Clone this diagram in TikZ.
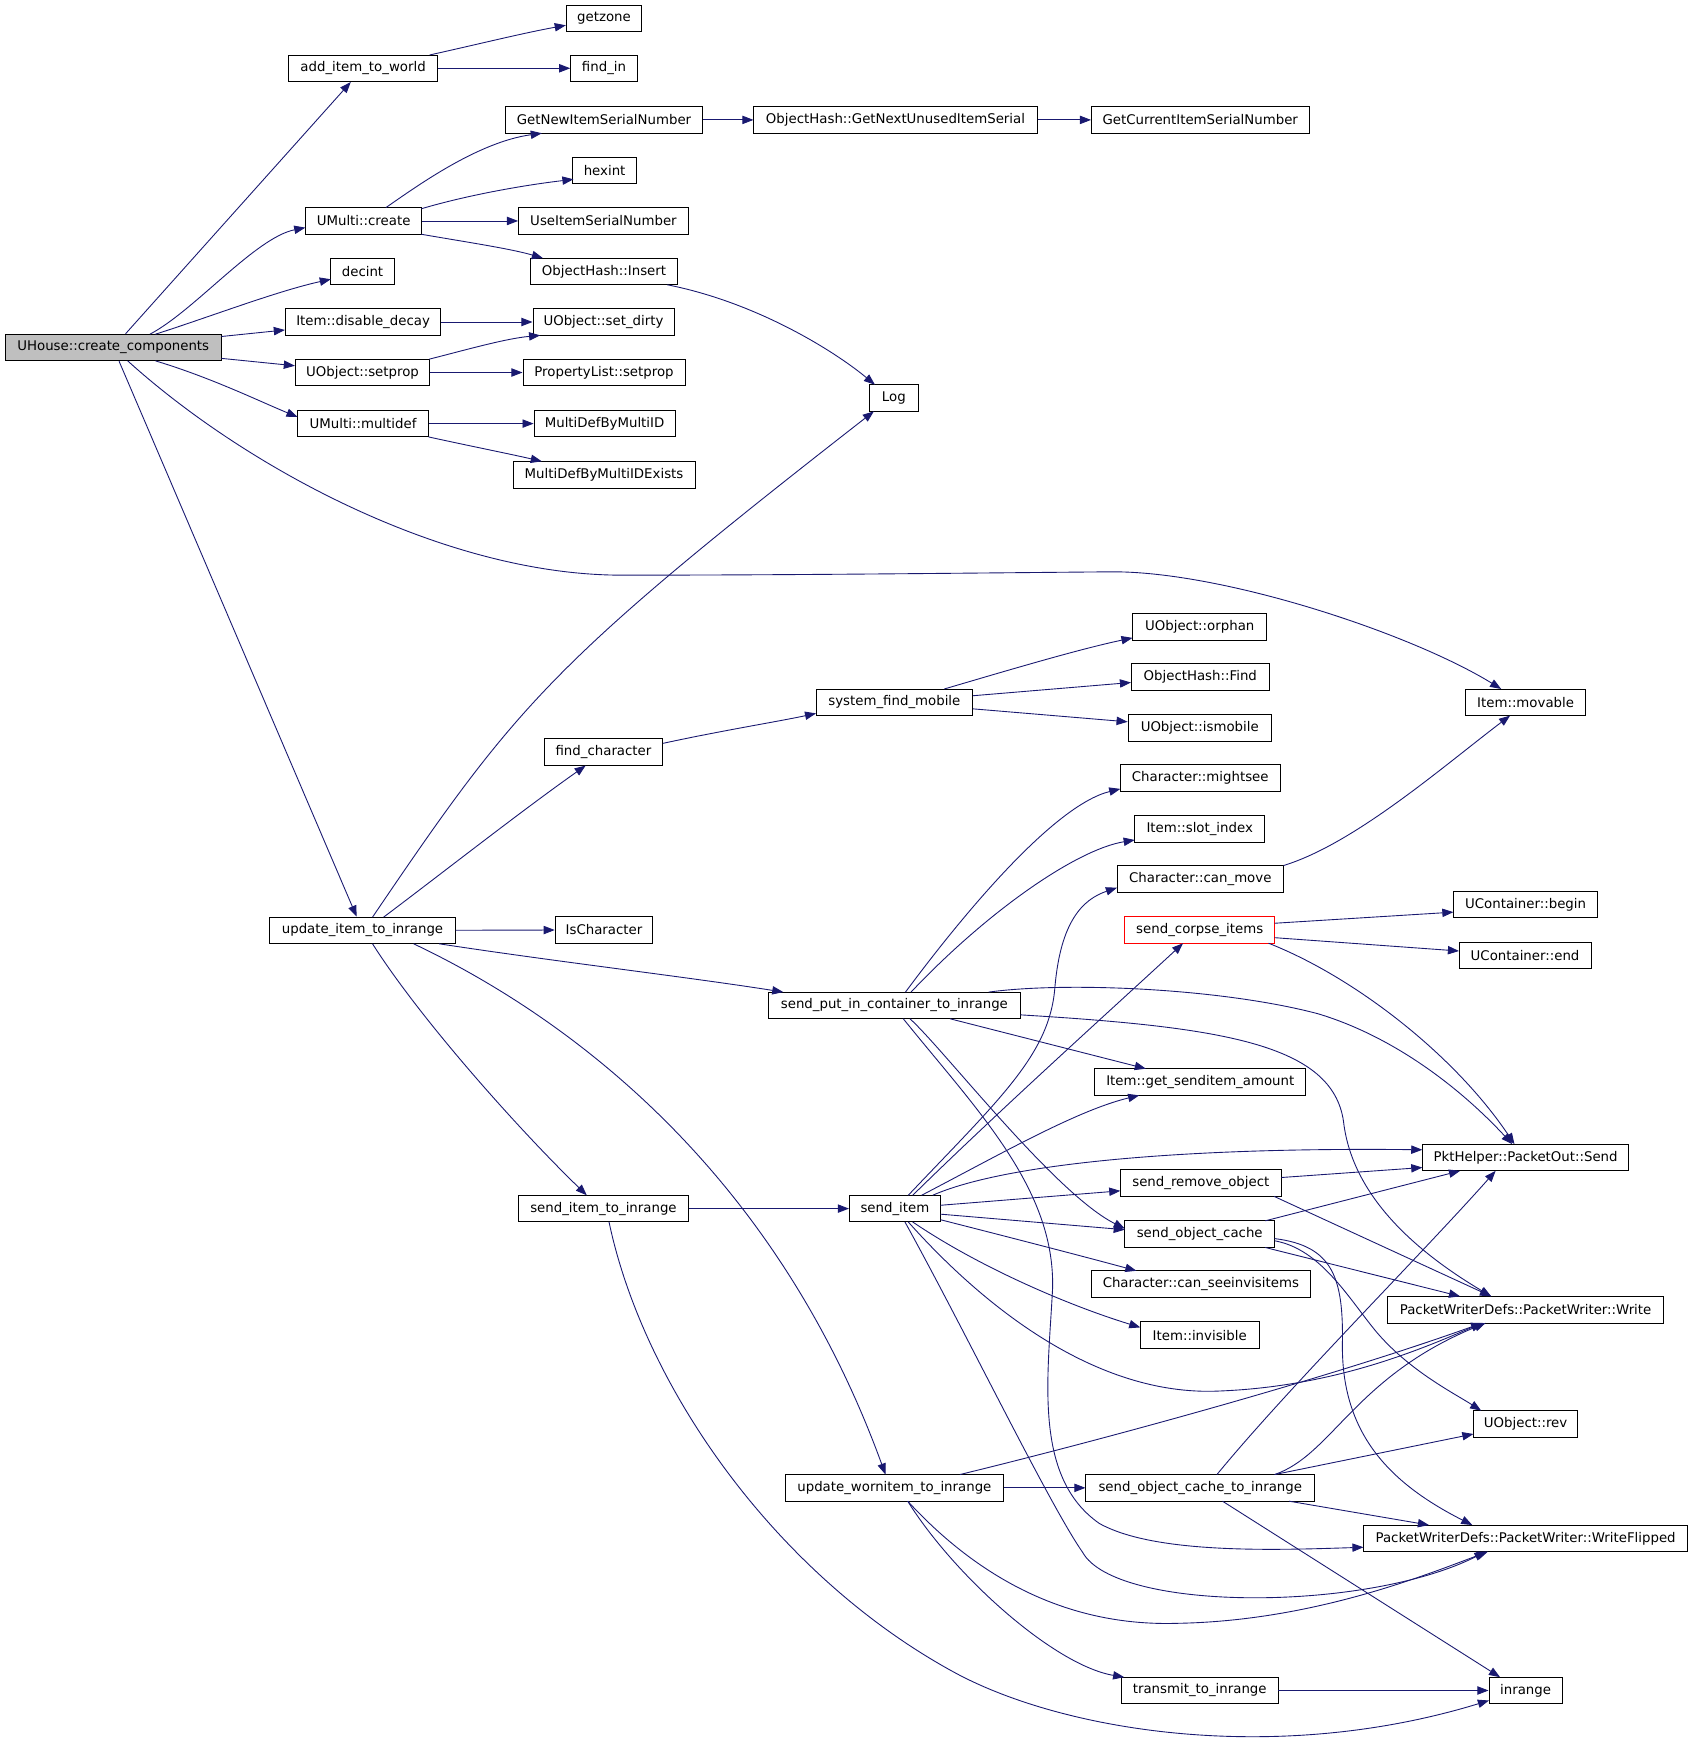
\documentclass[tikz,border=0pt]{standalone}
\usepackage{fontspec}
\setmainfont{DejaVu Sans}
\usetikzlibrary{arrows.meta,calc}
\definecolor{edgeblue}{HTML}{191970}
\definecolor{rootgray}{HTML}{BFBFBF}
\begin{document}
\begin{tikzpicture}[x=1pt,y=-1pt,
  box/.style={draw=black, line width=0.8pt, minimum height=24pt, inner sep=0pt, font=\fontsize{12}{14}\selectfont},
  e/.style={draw=edgeblue, line width=0.8pt, -{Triangle[length=10pt,width=7.5pt]}}]
\useasboundingbox (0,0) rectangle (1525,1568);
% nodes
\node[box, fill=rootgray, minimum width=194pt] (ucc) at (102,313) {UHouse::create\_components};
\node[box, minimum width=134pt] (aitw) at (327,61.5) {add\_item\_to\_world};
\node[box, minimum width=68pt] (getzone) at (544,16.5) {getzone};
\node[box, minimum width=60pt] (findin) at (544,61.5) {find\_in};
\node[box, minimum width=178pt] (gnisn) at (544,108) {GetNewItemSerialNumber};
\node[box, minimum width=255pt] (ohgnuis) at (806.5,108) {ObjectHash::GetNextUnusedItemSerial};
\node[box, minimum width=196pt] (gcisn) at (1081,108) {GetCurrentItemSerialNumber};
\node[box, minimum width=57pt] (hexint) at (544.5,153.5) {hexint};
\node[box, minimum width=105pt] (umc) at (327.5,199) {UMulti::create};
\node[box, minimum width=153pt] (uisn) at (543.5,199) {UseItemSerialNumber};
\node[box, minimum width=57pt] (decint) at (326.5,244.5) {decint};
\node[box, minimum width=132pt] (ohi) at (544,244.5) {ObjectHash::Insert};
\node[box, minimum width=140pt] (idd) at (327,290) {Item::disable\_decay};
\node[box, minimum width=127pt] (uosd) at (543.5,290) {UObject::set\_dirty};
\node[box, minimum width=121pt] (uosp) at (326.5,335.5) {UObject::setprop};
\node[box, minimum width=146pt] (plsp) at (544,335.5) {PropertyList::setprop};
\node[box, minimum width=44pt] (log) at (805,358.5) {Log};
\node[box, minimum width=118pt] (umm) at (327,381.5) {UMulti::multidef};
\node[box, minimum width=127pt] (mdbmid) at (544.5,381.5) {MultiDefByMultiID};
\node[box, minimum width=164pt] (mdbmide) at (544,427.5) {MultiDefByMultiIDExists};
\node[box, minimum width=121pt] (uoo) at (1080.5,564.5) {UObject::orphan};
\node[box, minimum width=124pt] (ohf) at (1081,609.5) {ObjectHash::Find};
\node[box, minimum width=141pt] (sfm) at (805.5,632.5) {system\_find\_mobile};
\node[box, minimum width=108pt] (movable) at (1374,632.5) {Item::movable};
\node[box, minimum width=129pt] (uoim) at (1080.5,655.5) {UObject::ismobile};
\node[box, minimum width=107pt] (findchar) at (543.5,677.5) {find\_character};
\node[box, minimum width=144pt] (charms) at (1081,700.5) {Character::mightsee};
\node[box, minimum width=117pt] (slotidx) at (1080.5,746.5) {Item::slot\_index};
\node[box, minimum width=150pt] (cancm) at (1081,791.5) {Character::can\_move};
\node[box, minimum width=130pt] (ucb) at (1374,814.5) {UContainer::begin};
\node[box, minimum width=167pt] (uiti) at (326.5,838) {update\_item\_to\_inrange};
\node[box, minimum width=88pt] (ischar) at (544,837.5) {IsCharacter};
\node[box, draw=red, minimum width=135pt] (sci) at (1080.5,837.5) {send\_corpse\_items};
\node[box, minimum width=119pt] (uce) at (1373.5,860.5) {UContainer::end};
\node[box, minimum width=227pt] (spic) at (805.5,905.5) {send\_put\_in\_container\_to\_inrange};
\node[box, minimum width=190pt] (gsa) at (1081,974.5) {Item::get\_senditem\_amount};
\node[box, minimum width=186pt] (pktsend) at (1374,1042.5) {PktHelper::PacketOut::Send};
\node[box, minimum width=145pt] (sro) at (1081.5,1065.5) {send\_remove\_object};
\node[box, minimum width=153pt] (siti) at (543.5,1088.5) {send\_item\_to\_inrange};
\node[box, minimum width=82pt] (si) at (806,1088.5) {send\_item};
\node[box, minimum width=135pt] (soc) at (1080.5,1111.5) {send\_object\_cache};
\node[box, minimum width=197pt] (csii) at (1081.5,1156.5) {Character::can\_seeinvisitems};
\node[box, minimum width=248pt] (write) at (1374,1179.5) {PacketWriterDefs::PacketWriter::Write};
\node[box, minimum width=107pt] (invis) at (1080.5,1202.5) {Item::invisible};
\node[box, minimum width=94pt] (rev) at (1374,1282.5) {UObject::rev};
\node[box, minimum width=197pt] (uwiti) at (805.5,1340) {update\_wornitem\_to\_inrange};
\node[box, minimum width=206pt] (socti) at (1081,1340) {send\_object\_cache\_to\_inrange};
\node[box, minimum width=292pt] (wflip) at (1374,1385.5) {PacketWriterDefs::PacketWriter::WriteFlipped};
\node[box, minimum width=141pt] (tti) at (1080.5,1522.5) {transmit\_to\_inrange};
\node[box, minimum width=66pt] (inrange) at (1374,1522.5) {inrange};
% edges from UHouse::create_components
\draw[e] (ucc) -- (aitw);
\draw[e] ($(ucc)+(33,-12)$) .. controls (175,280) and (230,214) .. ($(umc)+(-52.5,6)$);
\draw[e] ($(ucc)+(38,-12)$) .. controls (190,285) and (250,262) .. ($(decint)+(-28.5,7)$);
\draw[e] (ucc) -- (idd);
\draw[e] (ucc) -- (uosp);
\draw[e] ($(ucc)+(38,12)$) .. controls (190,340) and (235,362) .. ($(umm)+(-59,-6)$);
\draw[e] ($(ucc)+(13,12)$) .. controls (220,420) and (400,518) .. (560,518) .. controls (720,518) and (880,516) .. (1000,515) .. controls (1100,514) and (1270,570) .. ($(movable)+(-22,-12)$);
\draw[e] (ucc) -- (uiti);
% upper area
\draw[e] ($(aitw)+(60,-12)$) .. controls (430,40) and (470,30) .. (getzone);
\draw[e] (aitw) -- (findin);
\draw[e] (gnisn) -- (ohgnuis);
\draw[e] (ohgnuis) -- (gcisn);
\draw[e] ($(umc)+(20,-12)$) .. controls (375,168) and (430,128) .. ($(gnisn)+(-56,12)$);
\draw[e] ($(umc)+(52,-11)$) .. controls (420,176) and (470,167) .. ($(hexint)+(-28,8)$);
\draw[e] (umc) -- (uisn);
\draw[e] ($(umc)+(52,12)$) .. controls (420,218) and (460,224) .. ($(ohi)+(-55,-12)$);
\draw[e] ($(ohi)+(57,12)$) .. controls (680,272) and (750,315) .. ($(log)+(-17,-12)$);
\draw[e] (idd) -- (uosd);
\draw[e] ($(uosp)+(60,-12)$) .. controls (420,315) and (455,305) .. ($(uosd)+(-57,12)$);
\draw[e] (uosp) -- (plsp);
\draw[e] (umm) -- (mdbmid);
\draw[e] ($(umm)+(59,12)$) .. controls (420,401) and (460,409) .. ($(mdbmide)+(-56,-12)$);
% update_item_to_inrange
\draw[e] ($(uiti)+(9,-12)$) .. controls (465,635) and (495,598) .. ($(log)+(-18,12)$);
\draw[e] ($(uiti)+(19,-12)$) .. controls (400,785) and (470,730) .. ($(findchar)+(-16,12)$);
\draw[e] (uiti) -- (ischar);
\draw[e] ($(uiti)+(69,12)$) .. controls (500,866) and (620,880) .. ($(spic)+(-100,-12)$);
\draw[e] ($(uiti)+(9,12)$) .. controls (380,920) and (470,1020) .. ($(siti)+(-15,-12)$);
\draw[e] ($(uiti)+(46,12)$) .. controls (520,920) and (700,1060) .. ($(uwiti)+(-8,-12)$);
% find_character / system_find_mobile
\draw[e] ($(findchar)+(53.5,-8)$) .. controls (650,658) and (700,650) .. ($(sfm)+(-70.5,10)$);
\draw[e] ($(sfm)+(45,-12)$) .. controls (900,606) and (970,585) .. ($(uoo)+(-60.5,10)$);
\draw[e] (sfm) -- (ohf);
\draw[e] (sfm) -- (uoim);
\draw[e] ($(cancm)+(75,-12)$) .. controls (1220,760) and (1300,690) .. ($(movable)+(-14,12)$);
% send_corpse_items
\draw[e] ($(sci)+(67.5,-6)$) -- ($(ucb)+(-65,7)$);
\draw[e] ($(sci)+(67.5,7)$) -- ($(uce)+(-59.5,-4)$);
\draw[e] ($(sci)+(62,12)$) .. controls (1220,880) and (1310,950) .. ($(pktsend)+(-10,-12)$);
% send_put_in_container_to_inrange
\draw[e] ($(spic)+(10,-12)$) .. controls (870,820) and (950,725) .. ($(charms)+(-72,10)$);
\draw[e] ($(spic)+(15,-12)$) .. controls (890,820) and (970,765) .. ($(slotidx)+(-58.5,10)$);
\draw[e] ($(spic)+(50,12)$) -- ($(gsa)+(-49,-12)$);
\draw[e] ($(spic)+(85,-12)$) .. controls (960,884) and (1100,890) .. (1187,913) .. controls (1260,935) and (1320,985) .. ($(pktsend)+(-12,-12)$);
\draw[e] ($(spic)+(113.5,8.5)$) .. controls (1100,925) and (1200,940) .. (1210,1010) .. controls (1218,1080) and (1280,1130) .. ($(write)+(-31,-12)$);
\draw[e] ($(spic)+(14,12)$) .. controls (850,945) and (950,1075) .. ($(soc)+(-67.5,-5)$);
\draw[e] ($(spic)+(8,12)$) .. controls (880,1000) and (950,1070) .. (948,1160) .. controls (944,1240) and (930,1330) .. (990,1372) .. controls (1040,1400) and (1150,1396) .. ($(wflip)+(-146,8)$);
% send_item
\draw[e] ($(si)+(12,-12)$) .. controls (900,990) and (945,950) .. (950,890) .. controls (955,830) and (975,810) .. ($(cancm)+(-75,8)$);
\draw[e] ($(si)+(16,-12)$) .. controls (900,1000) and (1000,910) .. ($(sci)+(-15,12)$);
\draw[e] ($(si)+(24,-12)$) .. controls (900,1040) and (970,1000) .. ($(gsa)+(-55,12)$);
\draw[e] ($(si)+(34,-12)$) .. controls (900,1050) and (1050,1033) .. ($(pktsend)+(-93,-7)$);
\draw[e] ($(si)+(41,-3)$) -- ($(sro)+(-72.5,7)$);
\draw[e] ($(si)+(41,5)$) -- ($(soc)+(-67.5,-4)$);
\draw[e] ($(si)+(41,10)$) .. controls (900,1112) and (970,1130) .. ($(csii)+(-58,-12)$);
\draw[e] ($(si)+(16,12)$) .. controls (880,1140) and (960,1175) .. ($(invis)+(-53.5,-7)$);
\draw[e] ($(si)+(12,12)$) .. controls (880,1170) and (980,1255) .. (1092,1253) .. controls (1200,1250) and (1280,1215) .. ($(write)+(-39,12)$);
\draw[e] ($(si)+(9,12)$) .. controls (870,1200) and (945,1355) .. (975,1398) .. controls (1005,1452) and (1230,1452) .. ($(wflip)+(-36,12)$);
% send_item_to_inrange
\draw[e] (siti) -- (si);
\draw[e] ($(siti)+(5,12)$) .. controls (580,1250) and (700,1420) .. (861,1507) .. controls (960,1560) and (1150,1590) .. ($(inrange)+(-33,9)$);
% send_remove_object
\draw[e] ($(sro)+(72.5,-5)$) -- ($(pktsend)+(-93,9)$);
\draw[e] ($(sro)+(66,12)$) -- ($(write)+(-31,-12)$);
% send_object_cache
\draw[e] ($(soc)+(59,-12)$) -- ($(pktsend)+(-59,12)$);
\draw[e] ($(soc)+(59,12)$) -- ($(write)+(-59,-12)$);
\draw[e] ($(soc)+(67.5,6)$) .. controls (1190,1125) and (1215,1170) .. (1240,1200) .. controls (1270,1235) and (1310,1255) .. ($(rev)+(-40,-12)$);
\draw[e] ($(soc)+(67.5,4)$) .. controls (1200,1122) and (1210,1150) .. (1209,1210) .. controls (1208,1290) and (1250,1335) .. ($(wflip)+(-48,-12)$);
% update_wornitem_to_inrange
\draw[e] (uwiti) -- (socti);
\draw[e] ($(uwiti)+(59,-12)$) .. controls (1000,1295) and (1200,1240) .. ($(write)+(-39,12)$);
\draw[e] ($(uwiti)+(12,12)$) .. controls (880,1420) and (960,1465) .. (1060,1462) .. controls (1180,1460) and (1280,1420) .. ($(wflip)+(-34,12)$);
\draw[e] ($(uwiti)+(12,12)$) .. controls (860,1420) and (950,1500) .. ($(tti)+(-68,-12)$);
% send_object_cache_to_inrange
\draw[e] ($(socti)+(15,-12)$) .. controls (1160,1250) and (1280,1130) .. ($(pktsend)+(-27,12)$);
\draw[e] ($(socti)+(67,-12)$) .. controls (1200,1310) and (1220,1240) .. ($(write)+(-36,12)$);
\draw[e] ($(socti)+(67,-12)$) -- ($(rev)+(-47,9)$);
\draw[e] ($(socti)+(80,12)$) -- ($(wflip)+(-87,-12)$);
\draw[e] ($(socti)+(20,12)$) -- ($(inrange)+(-23,-12)$);
\draw[e] (tti) -- (inrange);
\end{tikzpicture}
\end{document}
